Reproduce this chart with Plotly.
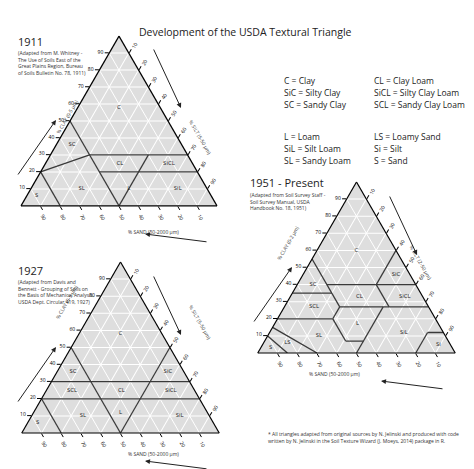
import plotly.graph_objects as go

W, H = 474, 469

# class boundaries as (clay, sand, silt) segments
lines_1911 = [
    [(50, 50, 0), (0, 50, 50)],
    [(20, 80, 0), (30, 50, 20)],
    [(30, 50, 20), (30, 0, 70)],
    [(20, 50, 30), (20, 0, 80)],
    [(20, 80, 0), (0, 80, 20)],
    [(30, 20, 50), (0, 50, 50)],
]
labels_1911 = ["C", "SC", "CL", "SiCL", "SL", "L", "SiL", "S"]
pos_1911 = [(58, 21, 21), (36, 56, 8), (25, 37, 38), (25, 12, 63),
            (10, 64, 26), (10, 40, 50), (10, 15, 75), (6, 89, 5)]

lines_1927 = [
    [(50, 50, 0), (0, 50, 50)],
    [(50, 0, 50), (0, 50, 50)],
    [(30, 70, 0), (30, 0, 70)],
    [(20, 80, 0), (20, 0, 80)],
    [(20, 80, 0), (0, 80, 20)],
]
labels_1927 = ["C", "SC", "SCL", "CL", "SiC", "SiCL", "SL", "L", "SiL", "S"]
pos_1927 = [(58, 21, 21), (36, 56, 8), (25, 62, 13), (25, 37, 38), (36, 8, 56),
            (25, 12, 63), (10, 64, 26), (12, 44, 44), (10, 15, 75), (6, 89, 5)]

lines_1951 = [
    [(55, 45, 0), (27, 45, 28)],
    [(40, 45, 15), (40, 0, 60)],
    [(40, 20, 40), (60, 0, 40)],
    [(35, 65, 0), (35, 45, 20)],
    [(27, 45, 28), (27, 0, 73)],
    [(40, 20, 40), (27, 20, 53)],
    [(27, 45, 28), (20, 52, 28)],
    [(20, 80, 0), (20, 52, 28)],
    [(20, 52, 28), (7, 52, 41)],
    [(7, 52, 41), (7, 43, 50)],
    [(27, 23, 50), (0, 50, 50)],
    [(15, 85, 0), (0, 70, 30)],
    [(10, 90, 0), (0, 85, 15)],
    [(12, 8, 80), (0, 20, 80)],
    [(12, 8, 80), (12, 0, 88)],
]
labels_1951 = ["C", "SiC", "SC", "CL", "SiCL", "SCL", "L", "SiL", "SL", "LS", "S", "Si"]
pos_1951 = [(60, 20, 20), (46, 7, 47), (40, 52, 8), (33, 32, 35), (33, 9, 58),
            (27, 58, 15), (17, 41, 42), (12, 20, 68), (10, 64, 26), (6, 82, 12),
            (3, 92, 5), (5, 6, 89)]

legend_left = ["C = Clay", "SiC = Silty Clay", "SC = Sandy Clay",
               "L = Loam", "SiL = Silt Loam", "SL = Sandy Loam"]
legend_right = ["CL = Clay Loam", "SiCL = Silty Clay Loam", "SCL = Sandy Clay Loam",
                "LS = Loamy Sand", "Si = Silt", "S = Sand"]

ticks = [10, 20, 30, 40, 50, 60, 70, 80, 90]


def px(x, y):
    return x / W, 1 - y / H


fig = go.Figure()


def add_triangle(name, lines, labels, pos):
    for seg in lines:
        fig.add_trace(go.Scatterternary(
            a=[p[0] for p in seg], b=[p[1] for p in seg], c=[p[2] for p in seg],
            mode="lines", line=dict(color="#3a3a3a", width=1.3),
            subplot=name, showlegend=False, hoverinfo="skip"))
    fig.add_trace(go.Scatterternary(
        a=[p[0] for p in pos], b=[p[1] for p in pos], c=[p[2] for p in pos],
        mode="text", text=labels, textfont=dict(size=6, color="#222"),
        subplot=name, showlegend=False, hoverinfo="skip"))


add_triangle("ternary", lines_1911, labels_1911, pos_1911)
add_triangle("ternary2", lines_1927, labels_1927, pos_1927)
add_triangle("ternary3", lines_1951, labels_1951, pos_1951)


def axis(angle=0):
    return dict(tickvals=ticks, ticks="outside", ticklen=4, tickcolor="black",
                tickfont=dict(size=5, color="black", family="Open Sans"),
                tickangle=angle, showline=True, linecolor="black", linewidth=1.2,
                showgrid=True, gridcolor="white", gridwidth=0.8,
                title=dict(text=""), min=0)


def tern(x0, x1, top, bottom):
    # small correction for plotly's own placement inside the domain
    xa, yt = px(x0 - 4, top - 8)
    xb, yb = px(x1 - 4, bottom - 8)
    return dict(domain=dict(x=[xa, xb], y=[yb, yt]), bgcolor="#dedede", sum=100,
                aaxis=axis(0), baxis=axis(60), caxis=axis(-60))


ann = [dict(text="Development of the USDA Textural Triangle", x=0.5, y=px(0, 15)[1],
            xref="paper", yref="paper", showarrow=False,
            font=dict(size=10.5, color="#222", family="Open Sans"))]

blocks = [
    (8, 33, "1911", ["(Adapted from M. Whitney -", "The Use of Soils East of the",
                     "Great Plains Region, Bureau", "of Soils Bulletin No. 78, 1911)"]),
    (8, 262, "1927", ["(Adapted from Davis and", "Bennett - Grouping of Soils on",
                      "the Basis of Mechanical Analysis,", "USDA Dept. Circular 419, 1927)"]),
    (240, 175, "1951 - Present", ["(Adapted from Soil Survey Staff -",
                                  "Soil Survey Manual, USDA", "Handbook No. 18, 1951)"]),
]
for x, y, t, sub in blocks:
    xx, yy = px(x, y)
    ann.append(dict(text=t, x=xx, y=yy, xref="paper", yref="paper", showarrow=False,
                    xanchor="left", yanchor="middle",
                    font=dict(size=11, color="#222", family="Open Sans")))
    xx, yy = px(x, y + 7)
    ann.append(dict(text="<br>".join(sub), x=xx, y=yy, xref="paper", yref="paper",
                    showarrow=False, xanchor="left", yanchor="top", align="left",
                    font=dict(size=5, color="#333", family="Open Sans")))

for i, (l, r) in enumerate(zip(legend_left, legend_right)):
    y = 65 + 12 * i + (20 if i >= 3 else 0)
    for x, t in ((274, l), (364, r)):
        xx, yy = px(x, y)
        ann.append(dict(text=t, x=xx, y=yy, xref="paper", yref="paper", showarrow=False,
                        xanchor="left", font=dict(size=8.5, color="#222", family="Open Sans")))

foot = ["* All triangles adapted from original sources by N. Jelinski and produced with code",
        "written by N. Jelinski in the Soil Texture Wizard (J. Moeys, 2014) package in R."]
xx, yy = px(258, 421)
ann.append(dict(text="<br>".join(foot), x=xx, y=yy, xref="paper", yref="paper",
                showarrow=False, xanchor="left", yanchor="top", align="left",
                font=dict(size=5, color="#333", family="Open Sans")))

axis_titles = [
    (0, 0, "(0-5 µm)", "(5-50 µm)"),
    (0, 227, "(0-5 µm)", "(5-50 µm)"),
    (236, 147, "(0-2 µm)", "(2-50 µm)"),
]
for dx, dy, cl, si in axis_titles:
    for x, y, t, ang in ((44 + dx, 88 + dy, "% CLAY " + cl, -60),
                         (192 + dx, 108 + dy, "% SILT " + si, 60),
                         (118 + dx, 224 + dy, "% SAND (50-2000 µm)", 0)):
        xx, yy = px(x, y)
        ann.append(dict(text=t, x=xx, y=yy, xref="paper", yref="paper", showarrow=False,
                        textangle=ang, font=dict(size=5, color="#333", family="Open Sans")))
    for (x0, y0, x1, y1) in ((9 + dx, 168 + dy, 48 + dx, 112 + dy),
                             (145 + dx, 40 + dy, 173 + dx, 100 + dy),
                             (200 + dx, 234 + dy, 137 + dx, 226 + dy)):
        xb, yb = px(x1, y1)
        ann.append(dict(x=xb, y=yb, ax=x0 - x1, ay=y0 - y1, xref="paper", yref="paper",
                        text="", showarrow=True,
                        arrowhead=2, arrowsize=1, arrowwidth=1, arrowcolor="#222"))

fig.update_layout(
    width=W, height=H, margin=dict(l=0, r=0, t=0, b=0),
    paper_bgcolor="white", showlegend=False,
    ternary=tern(17, 213, 35, 207),
    ternary2=tern(17, 216, 262, 433),
    ternary3=tern(253, 452, 182, 353),
    annotations=ann,
)

fig.write_html("out.html")
